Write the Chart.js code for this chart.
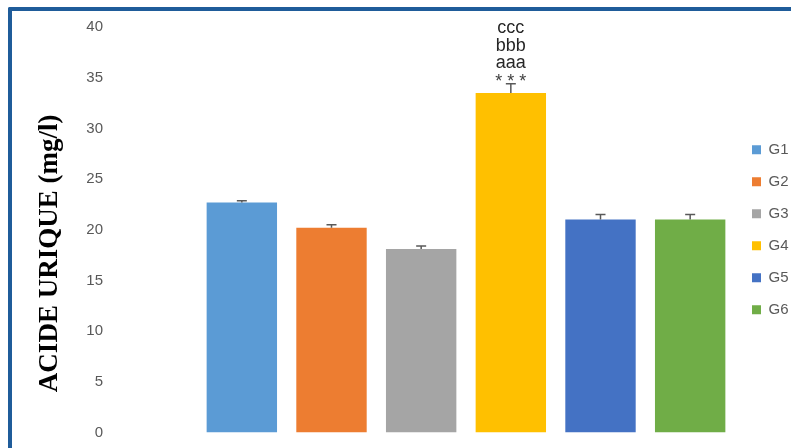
<!DOCTYPE html>
<html>
<head>
<meta charset="utf-8">
<script src="https://cdn.jsdelivr.net/npm/chart.js@4"></script>
<style>
    body { margin: 0; background: #fff; overflow: hidden; }
    .cadre { position: absolute; left: 8px; top: 7px; width: 900px; height: 600px;
             border-left: 4px solid #1F5C9A; border-top: 4px solid #1F5C9A; border-top-left-radius: 2px; }
    canvas { position: absolute; left: 0; top: 0; }
</style>
</head>
<body>
<div class="cadre"></div>
<canvas id="GraficoAcide" width="791" height="448"></canvas>
<script>
var groupes = ["G1", "G2", "G3", "G4", "G5", "G6"];
var valeurs = [22.7, 20.2, 18.1, 33.5, 21.0, 21.0];
var erreurs = [0.15, 0.3, 0.3, 0.9, 0.5, 0.5];
var couleurs = ["#5B9BD5", "#ED7D31", "#A5A5A5", "#FFC000", "#4472C4", "#70AD47"];
var ticksY = [0, 5, 10, 15, 20, 25, 30, 35, 40];
var annotations = { 3: ["ccc", "bbb", "aaa", "* * *"] };

// barres d'erreur (vers le haut seulement)
var barresErreur = {
    id: 'barresErreur',
    afterDatasetsDraw: function (chart) {
        var ctx = chart.ctx;
        var y = chart.scales.y;
        var meta = chart.getDatasetMeta(0);
        ctx.save();
        ctx.strokeStyle = "#595959";
        ctx.lineWidth = 1.5;
        meta.data.forEach(function (barre, i) {
            var yHaut = y.getPixelForValue(valeurs[i] + erreurs[i]);
            ctx.beginPath();
            ctx.moveTo(barre.x, barre.y);
            ctx.lineTo(barre.x, yHaut);
            ctx.moveTo(barre.x - 5, yHaut);
            ctx.lineTo(barre.x + 5, yHaut);
            ctx.stroke();

            var lignes = annotations[i];
            if (lignes) {
                ctx.textAlign = "center";
                ctx.textBaseline = "alphabetic";
                ctx.font = "18px 'Liberation Sans', Arial, sans-serif";
                var decalages = [-51, -33, -16, 3];
                lignes.forEach(function (t, k) {
                    ctx.fillStyle = k == 3 ? "#404040" : "#262626";
                    ctx.fillText(t, barre.x, yHaut + decalages[k]);
                });
            }
        });
        ctx.restore();
    }
};

var ctx = document.getElementById('GraficoAcide').getContext('2d');

var grafico = new Chart(ctx, {
    type: 'bar',
    data: {
        labels: groupes,
        datasets: [{
            label: "Acide urique",
            data: valeurs,
            backgroundColor: couleurs,
            borderWidth: 0,
            barPercentage: 0.785,
            categoryPercentage: 1.0
        }]
    },
    options: {
        responsive: false,
        animation: false,
        layout: { padding: { top: 27, bottom: 15.5, left: 0, right: 0 } },
        plugins: {
            tooltip: { enabled: false },
            legend: {
                position: 'right',
                maxWidth: 56,
                labels: {
                    boxWidth: 9,
                    boxHeight: 9,
                    padding: 17,
                    color: "#595959",
                    font: { size: 15, family: "'Liberation Sans', Arial, sans-serif" },
                    generateLabels: function (chart) {
                        return groupes.map(function (g, i) {
                            return { text: g, fillStyle: couleurs[i], strokeStyle: couleurs[i], lineWidth: 0, index: i, fontColor: "#595959" };
                        });
                    }
                }
            }
        },
        scales: {
            x: {
                display: false
            },
            y: {
                min: 0,
                max: 40,
                afterBuildTicks: function (scale) {
                    scale.ticks = ticksY.map(function (v) { return { value: v }; });
                },
                afterFit: function (scale) {
                    scale.width = 197;
                    scale.paddingTop = 0;
                    scale.paddingBottom = 0;
                },
                grid: { display: false },
                border: { display: false },
                ticks: {
                    padding: 86,
                    color: "#595959",
                    font: { size: 15, family: "'Liberation Sans', Arial, sans-serif" }
                },
                title: {
                    display: true,
                    text: "ACIDE URIQUE (mg/l)       ",
                    color: "#000",
                    padding: { top: 34, bottom: 0 },
                    font: { size: 27, weight: 'bold', family: "'Liberation Serif', 'Times New Roman', serif" }
                }
            }
        }
    },
    plugins: [barresErreur]
});
</script>
</body>
</html>
